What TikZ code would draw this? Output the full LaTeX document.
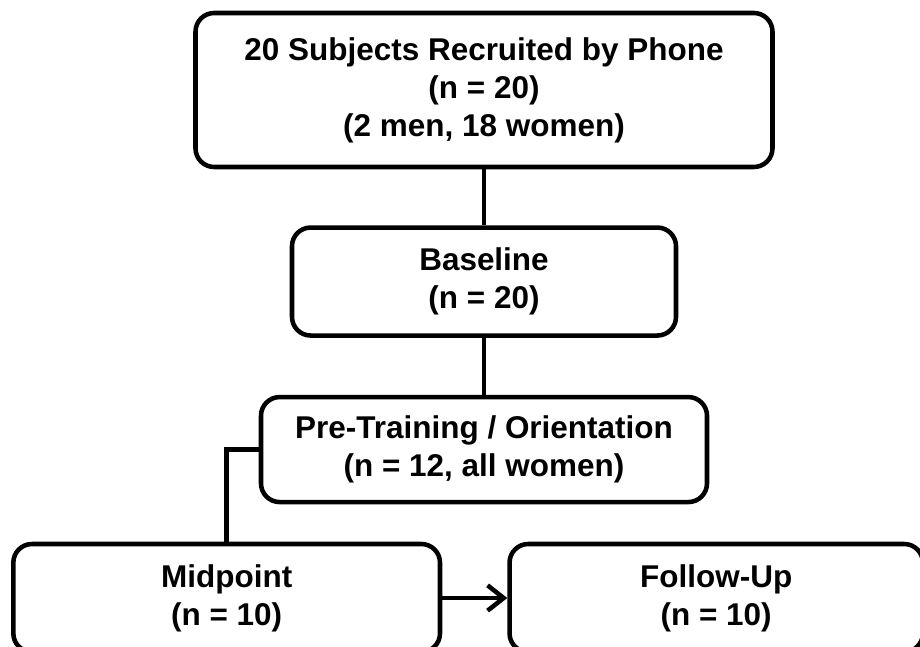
\documentclass[tikz,border=0pt]{standalone}
\usepackage{fontspec}
\setmainfont{Liberation Sans}
\usetikzlibrary{positioning,arrows.meta}

\begin{document}
\begin{tikzpicture}[%
	every text node part/.style={align=center},
	line width=3.4pt,
	node distance=42pt,
	box/.style={%
		rectangle,
		rounded corners=14pt,
		font=\fontsize{23.6}{28.5}\selectfont\bfseries,
		inner sep=0pt,
		draw
	},
	link/.style={%
		line width=3.4pt
	},
	step arrow/.style={%
		-{Straight Barb[length=12pt,width=19pt,line width=3.4pt]},
		line width=3.4pt
	}
	]
	\useasboundingbox (0,0) rectangle (690pt,-484.5pt);

	\node[box,minimum width=432.75pt,minimum height=115.5pt] (recruit) at (363pt,-67.5pt)
		{20 Subjects Recruited by Phone\\(n = 20)\\(2 men, 18 women)};
	\node[box,minimum width=288pt,minimum height=81pt] (baseline) [below=of recruit]
		{Baseline\\(n = 20)};
	\node[box,minimum width=334.5pt,minimum height=78.75pt] (pretrain) [below=42.75pt of baseline]
		{Pre-Training / Orientation\\(n = 12, all women)};
	\node[box,minimum width=320pt,minimum height=81pt] (midpoint) at (170pt,-448.5pt)
		{Midpoint\\(n = 10)};
	\node[box,minimum width=310pt,minimum height=81pt] (followup) [right=48.75pt of midpoint]
		{Follow-Up\\(n = 10)};

	\draw[link] (recruit) -- (baseline);
	\draw[link] (baseline) -- (pretrain);
	\draw[link] (pretrain.west) -| (midpoint.north);
	\draw[step arrow] (midpoint.east) -- (followup.west);
\end{tikzpicture}
\end{document}
